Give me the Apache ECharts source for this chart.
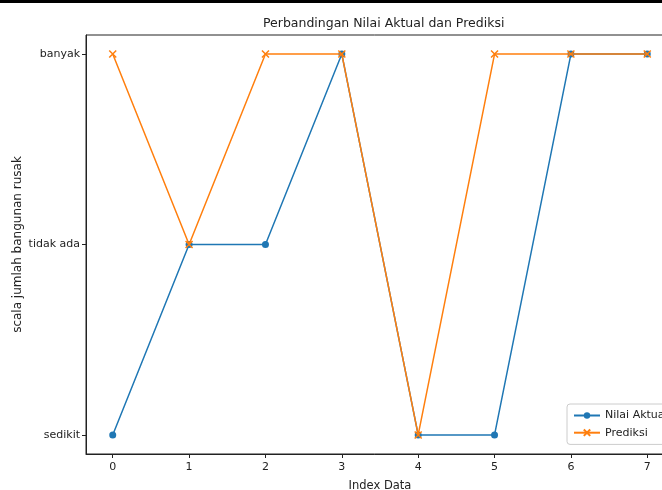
<!DOCTYPE html>
<html><head><meta charset="utf-8">
<script src="https://cdn.jsdelivr.net/npm/echarts@6/dist/echarts.min.js"></script>
<style>html,body{margin:0;padding:0;background:#fff}#c{width:662px;height:490px}</style>
</head><body><div id="c"></div>
<script>
const xIndex = [0, 1, 2, 3, 4, 5, 6, 7];
const yCategories = ['sedikit', 'tidak ada', 'banyak'];
const actualValues = [0, 1, 1, 2, 0, 0, 2, 2];
const predictedValues = [2, 1, 2, 2, 0, 2, 2, 2];

const chart = echarts.init(document.getElementById('c'));
const font = 'DejaVu Sans';
chart.setOption({
  animation: false,
  backgroundColor: '#fff',
  textStyle: { fontFamily: font },
  title: {
    text: 'Perbandingan Nilai Aktual dan Prediksi',
    left: 258, top: 12,
    textStyle: { fontFamily: font, fontSize: 12.5, fontWeight: 'normal', color: '#222' }
  },
  graphic: [
    { type: 'rect', shape: { x: 0, y: 0, width: 662, height: 3 }, style: { fill: '#000' }, z: 100 }
  ],
  grid: { left: 86, top: 35, width: 588, height: 419, containLabel: false, outerBoundsMode: 'none',
    show: true, borderColor: '#222', borderWidth: 1, backgroundColor: 'transparent' },
  legend: {
    orient: 'vertical', left: 567, top: 404,
    itemWidth: 26, itemHeight: 8, itemGap: 6,
    backgroundColor: '#fff', borderColor: '#ccc', borderWidth: 1, borderRadius: 3, padding: [6, 6, 6, 6],
    textStyle: { fontFamily: font, fontSize: 11, color: '#222' },
    data: ['Nilai Aktual', 'Prediksi']
  },
  xAxis: {
    type: 'value', min: -0.35, max: 7.35,
    name: 'Index Data', nameLocation: 'middle', nameGap: 26, nameMoveOverlap: false,
    nameTextStyle: { fontFamily: font, fontSize: 11.5, color: '#222' },
    axisLine: { show: true, onZero: false, lineStyle: { color: '#222', width: 1 } },
    axisTick: { show: true, length: 4, lineStyle: { color: '#222' }, customValues: xIndex },
    axisLabel: { fontFamily: font, fontSize: 11, color: '#222', margin: 8, customValues: xIndex },
    splitLine: { show: false }
  },
  yAxis: {
    type: 'value', min: -0.1, max: 2.1,
    name: 'scala jumlah bangunan rusak', nameLocation: 'middle', nameGap: 62, nameMoveOverlap: false,
    nameTextStyle: { fontFamily: font, fontSize: 12, color: '#222' },
    axisLine: { show: true, onZero: false, lineStyle: { color: '#222', width: 1 } },
    axisTick: { show: true, length: 4, lineStyle: { color: '#222' }, customValues: [0, 1, 2] },
    axisLabel: { fontFamily: font, fontSize: 11, color: '#222', margin: 6, customValues: [0, 1, 2],
      formatter: v => yCategories[Math.round(v)] },
    splitLine: { show: false }
  },
  series: [
    {
      name: 'Nilai Aktual', type: 'line',
      data: xIndex.map((x, i) => [x, actualValues[i]]),
      symbol: 'circle', symbolSize: 7,
      lineStyle: { color: '#1f77b4', width: 1.5 },
      itemStyle: { color: '#1f77b4' }, z: 2
    },
    {
      name: 'Prediksi', type: 'line',
      data: xIndex.map((x, i) => [x, predictedValues[i]]),
      symbol: 'path://M0,0L10,10M10,0L0,10', symbolSize: 7,
      lineStyle: { color: '#ff7f0e', width: 1.5 },
      itemStyle: { color: 'none', borderColor: '#ff7f0e', borderWidth: 1.5 }, z: 3
    }
  ]
});
</script></body></html>
